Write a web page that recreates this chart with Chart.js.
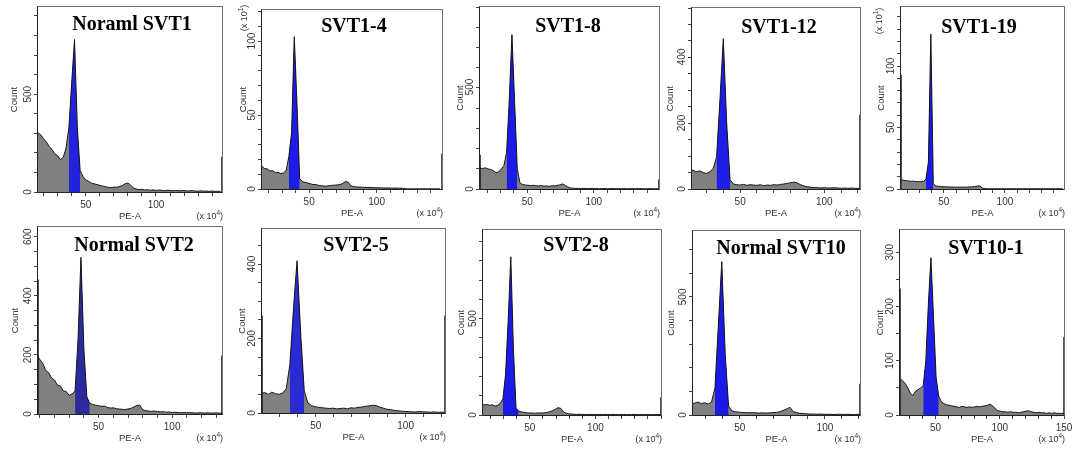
<!DOCTYPE html>
<html><head><meta charset="utf-8">
<script src="https://cdn.jsdelivr.net/npm/chart.js@4.4.1/dist/chart.umd.min.js"></script>
<style>
html,body{margin:0;padding:0;background:#fff;}
#wrap{position:relative;width:1072px;height:449px;overflow:hidden;background:#fff;}
#wrap canvas{position:absolute;}
</style></head><body><div id="wrap"></div>
<script>
// ---------------- DATA ----------------
const panelTitles = ["Noraml SVT1","SVT1-4","SVT1-8","SVT1-12","SVT1-19","Normal SVT2","SVT2-5","SVT2-8","Normal SVT10","SVT10-1"];
const binWidth = 2; // PE-A (x10^4) per histogram bin

const p1Start = 16;
const p1Counts = [303,292,272,255,232,218,196,185,165,178,225,330,560,780,330,110,80,62,55,46,42,38,34,30,27,24,22,25,24,28,33,42,46,35,20,15,12,14,10,12,9,11,8,10,9,7,9,8,6,8,7,6,8,5,6,7,5,4,6,4,5,3,5,3,4,3];
const p2Start = 15;
const p2Counts = [15.3,13.8,13.6,12.2,12.4,11.2,11.3,10.4,10.8,12.5,22,38,103,58,7,5,4.5,4,3.5,3,3,2.5,2.2,2,2,2.3,2.5,2.6,2.8,3,3.8,5.2,4.5,2.2,1.6,1.4,1.3,1.2,1.1,1,1,0.9,0.9,0.8,0.8,0.7,0.7,0.7,0.6,0.6,0.6,0.5,0.5,0.2,0.1,0.1,0.1,0.1,0.1,0.1,0.1,0.1,0.1,0.1,0.1,0.1,0.1];
const p3Start = 14.5;
const p3Counts = [103,100,104,98,96,90,80,84,98,115,180,438,757,430,100,30,22,20,18,17,18,16,15,17,14,15,13,16,15,18,20,25,18,10,5,4,3,3,2,3,2,2,3,2,2,1,2,2,1,2,2,1,2,1,2,1,1,2,1,1,2,1,1,1,2,1,1,1];
const p4Start = 20;
const p4Counts = [58,57,52,55,50,47,52,62,97,270,455,200,28,15,13,12,14,11,13,12,11,13,10,12,11,13,12,14,15,17,19,21,18,13,9,7,5,4,4,3,4,3,3,4,3,2,3,2,3,2,2,2];
const p5Start = 15.4;
const p5Counts = [7.5,7,6.8,6.5,6.2,6.4,6,6.1,5.8,6.2,8,22,126,4.5,2.5,2.2,2,1.8,1.8,1.7,1.6,1.6,1.5,1.5,1.5,1.6,1.5,1.6,1.7,1.8,2,2.4,2.7,0.8,0.4,0.2,0.2,0.2,0.2,0.2,0.2,0.2,0.2,0.2,0.2,0.2,0.2,0.2,0.2,0.2,0.2,0.2,0.2,0.2,0.2,0.2,0.2,0.2,0.2,0.2,0.2,0.2,0.2,0.2,0.2,0.2,0.2];
const p6Start = 8;
const p6Counts = [200,185,172,148,140,122,115,98,95,78,76,63,68,78,250,530,220,58,36,32,30,28,26,27,22,20,21,18,17,16,15,17,19,24,29,30,14,11,10,9,10,8,7,8,6,7,5,6,5,4,5,4,5,4,3,4,4,3,4,3,3,4,3,3];
const p7Start = 19.6;
const p7Counts = [52,55,50,56,52,50,54,65,130,280,409,215,60,27,20,17,15,14,13,12,13,11,12,13,11,14,13,15,16,18,19,21,20,16,13,10,9,7,6,5,4,4,3,3,4,3,3,2,3,2,2,2];
const p8Start = 13.5;
const p8Counts = [57,52,55,50,53,46,50,60,85,210,490,821,340,36,20,16,14,12,10,11,9,10,11,10,12,14,18,23,30,38,35,17,10,7,5,4,3,4,3,3,2,3,3,2,3,2,2,3,2,2,3,2,2,2,3,2,2,2,3,2,2,2,2,3,2,2,2,2,3];
const p9Start = 21.4;
const p9Counts = [47,50,55,48,52,46,55,115,380,649,260,38,17,14,12,11,10,9,10,9,8,9,8,9,10,11,14,19,25,33,14,10,7,6,5,4,4,3,4,3,3,3,2,3,3,2,3,2,2,3,2];
const p10Start = 22.4;
const p10Counts = [67,63,58,50,40,36,44,47,50,54,100,205,290,180,70,35,25,21,19,18,17,16,15,14,16,15,14,15,14,15,16,15,16,17,18,20,17,12,8,7,6,6,5,6,5,5,4,5,6,7,8,6,5,4,5,4,4,3,4,3,4,3,3,3,3];

// G1 gate (blue) in PE-A units (x10^4)
const gates = [[38,46],[35,43],[34.5,42.5],[36,44],[35.4,41.4],[34,44],[35.6,43.6],[29.5,41.5],[35.4,43.4],[40.4,52.4]];
// off-scale bins piled at the axis edges
const leftEdgeCounts  = [0,0,168,0,93,455,262,0,0,233];
const rightEdgeCounts = [180,24,46,225,0,198,262,92,132,144];
// axis ranges
const xRanges = [[16,147],[15.1,148.4],[14.5,149],[21.4,121.2],[15,148.3],[8.8,133.9],[20.1,121.9],[14.3,150],[22.5,120.6],[22.3,150]];
const yMaxes = [946,121,892,548,148,633,494,960,779,341];
const yTickSteps = [100,10,100,50,10,50,50,100,100,50];
const yTickLabels = [[0,500],[0,50,100],[0,500],[0,200,400],[0,50,100],[0,200,400,600],[0,200,400],[0,500],[0,500],[0,100,200,300]];
const xTickLabels = [[50,100],[50,100],[50,100],[50,100],[50,100],[50,100],[50,100],[50,100],[50,100],[50,100,150]];
const yExponent = [0,1,0,0,1,0,0,0,0,0];

const starts = [p1Start,p2Start,p3Start,p4Start,p5Start,p6Start,p7Start,p8Start,p9Start,p10Start];
const countsList = [p1Counts,p2Counts,p3Counts,p4Counts,p5Counts,p6Counts,p7Counts,p8Counts,p9Counts,p10Counts];

// ---------------- LAYOUT / STYLE ----------------
const plotRects = [[38,7,222,192],[262,10,442,189],[480,7,659,189],[692,8,860,189],[901,7,1064,189],
                   [38,227,222,414],[262,229,445,413],[483,230,661,415],[693,231,860,415],[900,230,1064,415]];
const titlePos = [[132,30],[354,31.5],[568,32],[779,33],[979,32.5],[134,251],[356,251],[576,251],[781,253.5],[986,253.5]];
const countOffset = [24,19,20,22,20,23,20,22,22,20];
const expPos = [null,[-17,8],null,null,[-21,14],null,null,null,null,null];
const blueColors = ['#2222dc','#1c1ce6','#1a1aea','#1e1ee4','#1a1aee','#2b2b9e','#2a2ad2','#1a1aea','#1a1ae8','#1e1ee6'];
const GRAY = '#808080';
const SANS = '"Liberation Sans", Arial, sans-serif';

function drawExpText(ctx, x, y, sup, align) {
  const base = '(x 10', close = ')';
  ctx.font = '9px ' + SANS;
  const w1 = ctx.measureText(base).width, w3 = ctx.measureText(close).width;
  ctx.font = '6.5px ' + SANS;
  const w2 = ctx.measureText(sup).width;
  const tot = w1 + w2 + w3;
  let x0 = align === 'right' ? x - tot : x - tot / 2;
  ctx.textAlign = 'left'; ctx.textBaseline = 'middle';
  ctx.font = '9px ' + SANS; ctx.fillText(base, x0, y);
  ctx.font = '6.5px ' + SANS; ctx.fillText(sup, x0 + w1, y - 3.5);
  ctx.font = '9px ' + SANS; ctx.fillText(close, x0 + w1 + w2, y);
}

const wrap = document.getElementById('wrap');
const padL = 36, padT = 8, padR = 14, padB = 36;

function makePanel(i) {
  const [L, T, R, B] = plotRects[i];
  const cw = R - L + padL + padR, ch = B - T + padT + padB;
  const cvLeft = L - padL, cvTop = T - padT;
  const cv = document.createElement('canvas');
  cv.width = cw; cv.height = ch;
  cv.style.left = cvLeft + 'px'; cv.style.top = cvTop + 'px';
  cv.style.width = cw + 'px'; cv.style.height = ch + 'px';
  wrap.appendChild(cv);

  const pts = countsList[i].map((c, k) => ({x: Math.round((starts[i] + k * binWidth) * 100) / 100, y: c}));
  const [g0, g1] = gates[i];
  const gpts = pts.filter(q => q.x >= g0 - 1e-6 && q.x <= g1 + 1e-6);
  const [xMin, xMax] = xRanges[i];

  const datasets = [
    {data: pts, fill: 'origin', backgroundColor: GRAY, borderColor: 'rgba(0,0,0,0)', borderWidth: 0, pointRadius: 0, order: 5},
    {data: gpts, fill: 'origin', backgroundColor: blueColors[i], borderColor: 'rgba(0,0,0,0)', borderWidth: 0, pointRadius: 0, order: 4},
    {data: pts, fill: false, borderColor: '#151515', borderWidth: 1, pointRadius: 0, order: 3}
  ];
  if (leftEdgeCounts[i] > 0) datasets.push({data: [{x: xMin, y: 0}, {x: xMin, y: leftEdgeCounts[i]}], fill: false, borderColor: '#151515', borderWidth: 1.5, pointRadius: 0, order: 2});
  if (rightEdgeCounts[i] > 0) datasets.push({data: [{x: xMax, y: 0}, {x: xMax, y: rightEdgeCounts[i]}], fill: false, borderColor: '#151515', borderWidth: 1.5, pointRadius: 0, order: 1});

  const gridOpts = {display: true, drawOnChartArea: false, drawTicks: true, tickLength: 4, color: '#444', lineWidth: 1};

  const deco = {
    id: 'deco' + i,
    afterDatasetsDraw(chart) {
      const ctx = chart.ctx, a = chart.chartArea, xs = chart.scales.x, ys = chart.scales.y;
      ctx.save();
      // frame
      ctx.lineWidth = 1;
      ctx.strokeStyle = '#707070';
      ctx.strokeRect(a.left - 0.5, a.top - 0.5, a.right - a.left + 1, a.bottom - a.top + 1);
      ctx.strokeStyle = '#222';
      ctx.beginPath();
      ctx.moveTo(a.left - 0.5, a.top - 0.5); ctx.lineTo(a.left - 0.5, a.bottom + 0.5); ctx.lineTo(a.right + 0.5, a.bottom + 0.5);
      ctx.stroke();
      // title
      ctx.fillStyle = '#000';
      ctx.font = 'bold 20px "Liberation Serif", "Times New Roman", serif';
      ctx.textAlign = 'center'; ctx.textBaseline = 'alphabetic';
      ctx.fillText(panelTitles[i], titlePos[i][0] - cvLeft, titlePos[i][1] - cvTop);
      // x tick labels
      ctx.fillStyle = '#333';
      ctx.font = '10px ' + SANS; ctx.textBaseline = 'middle';
      xTickLabels[i].forEach(v => ctx.fillText(String(v), xs.getPixelForValue(v), a.bottom + 13));
      // x title and exponent
      ctx.font = '9.5px ' + SANS;
      ctx.fillText('PE-A', (a.left + a.right) / 2, a.bottom + 24.5);
      drawExpText(ctx, a.right + 1, a.bottom + 24.5, '4', 'right');
      // y tick labels (rotated)
      yTickLabels[i].forEach(v => {
        ctx.save();
        ctx.translate(a.left - 10, ys.getPixelForValue(v));
        ctx.rotate(-Math.PI / 2);
        ctx.font = '10px ' + SANS; ctx.textAlign = 'center'; ctx.textBaseline = 'middle';
        ctx.fillText(String(v), 0, 0);
        ctx.restore();
      });
      // y title
      ctx.save();
      ctx.translate(a.left - countOffset[i], (a.top + a.bottom) / 2);
      ctx.rotate(-Math.PI / 2);
      ctx.font = '9.5px ' + SANS; ctx.textAlign = 'center'; ctx.textBaseline = 'middle';
      ctx.fillText('Count', 0, 0);
      ctx.restore();
      // y exponent
      if (yExponent[i]) {
        ctx.save();
        ctx.translate(a.left + expPos[i][0], a.top + expPos[i][1]);
        ctx.rotate(-Math.PI / 2);
        drawExpText(ctx, 0, 0, String(yExponent[i]), 'center');
        ctx.restore();
      }
      ctx.restore();
    }
  };

  new Chart(cv, {
    type: 'line',
    data: {datasets},
    options: {
      responsive: false, animation: false, devicePixelRatio: 1, events: [],
      layout: {padding: {left: padL, top: padT, right: padR, bottom: padB}},
      plugins: {legend: {display: false}, tooltip: {enabled: false}, title: {display: false}},
      elements: {line: {tension: 0}},
      scales: {
        x: {type: 'linear', min: xMin, max: xMax, afterFit: s => { s.height = 0; },
            ticks: {display: false, stepSize: 10, includeBounds: false, autoSkip: false},
            grid: gridOpts, border: {display: false}},
        y: {type: 'linear', min: 0, max: yMaxes[i], afterFit: s => { s.width = 0; },
            ticks: {display: false, stepSize: yTickSteps[i], includeBounds: false, autoSkip: false},
            grid: gridOpts, border: {display: false}}
      }
    },
    plugins: [deco]
  });
}

for (let i = 0; i < 10; i++) makePanel(i);
</script>
</body></html>
